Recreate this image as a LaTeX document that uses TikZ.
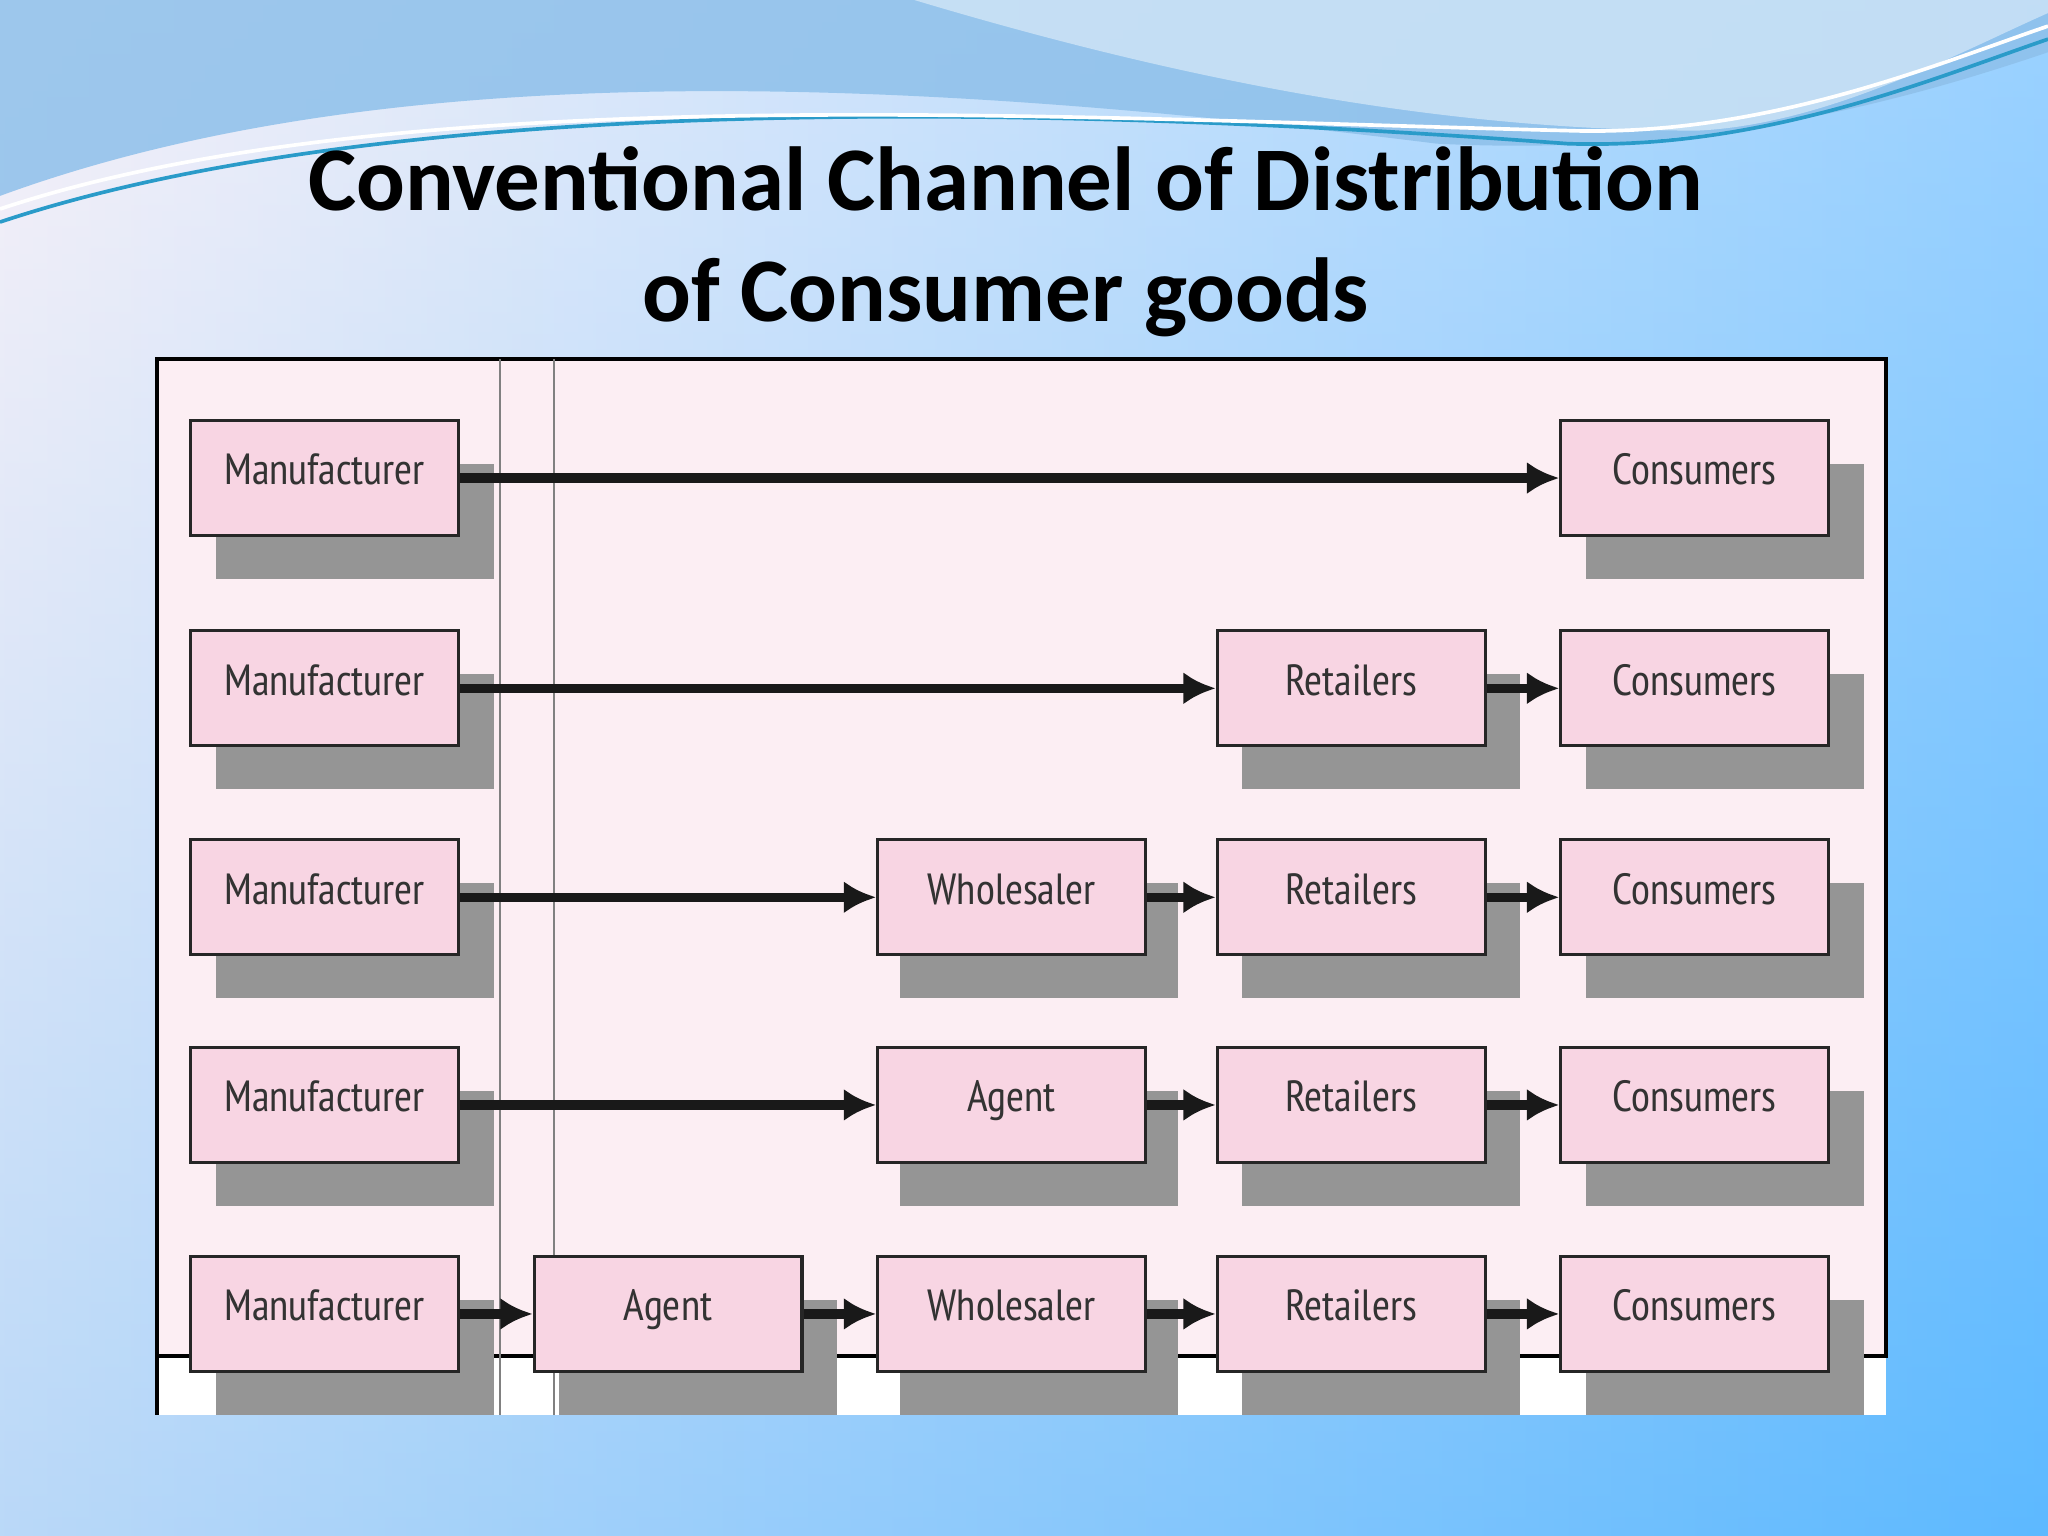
\documentclass[tikz,border=0pt]{standalone}
\usepackage{fontspec}
\setmainfont{Carlito}
\newfontfamily\boxfont{PT Sans Narrow}
\usetikzlibrary{arrows.meta}
\definecolor{boxpink}{HTML}{F8D5E3}
\definecolor{panelpink}{HTML}{FCEEF3}
\definecolor{shadowgray}{HTML}{959595}
\tikzset{
  chbox/.style={draw=black!85, line width=0.7pt, fill=boxpink, minimum width=2.05cm, minimum height=0.88cm, inner sep=0pt, text height=6pt, text depth=3pt, font=\boxfont\fontsize{9.5}{10}\selectfont, text=black!80},
  flow/.style={line width=2pt, -{Latex[length=7pt,width=7pt]}, black!90}
}
\begin{document}
\begin{tikzpicture}[x=0.01cm,y=-0.01cm]
\useasboundingbox (0,0) rectangle (1568,1176);
\shade[left color=violet!8!white, right color=cyan!55!blue!60] (0,0) rectangle (1568,1176);
\shade[top color=white, bottom color=cyan!60!blue!70, opacity=0.35] (0,0) rectangle (1568,1176);
% top waves
\fill[cyan!70!blue!45, opacity=0.85] (0,0) -- (0,150) .. controls (300,40) and (700,60) .. (1100,110) .. controls (1300,120) and (1450,80) .. (1568,40) -- (1568,0) -- cycle;
\fill[white, opacity=0.45] (700,0) .. controls (900,60) and (1100,100) .. (1300,100) .. controls (1400,95) and (1500,40) .. (1568,10) -- (1568,0) -- cycle;
\draw[cyan!60!teal, line width=0.8pt] (0,170) .. controls (300,70) and (800,80) .. (1200,110) .. controls (1350,115) and (1480,60) .. (1568,30);
\draw[white, line width=0.8pt] (0,160) .. controls (300,60) and (800,90) .. (1200,100) .. controls (1350,105) and (1480,50) .. (1568,20);
% title
\node[font=\bfseries\fontsize{19.8}{24}\selectfont, align=center] (title) at (770,185) {Conventional Channel of Distribution\\of Consumer goods};
% panel
\fill[white] (120,275) rectangle (1444,1083);
\fill[panelpink] (120,275) rectangle (1444,1038);
\draw[black, line width=0.8pt] (120,1083) -- (120,275) -- (1444,275) -- (1444,1038) -- (120,1038);
\draw[gray, line width=0.5pt] (383,275) -- (383,1083) (424,275) -- (424,1083);
% shadows
\foreach \y in {366,527,687,846,1006}{
  \foreach \x in {248.5,1297.5}{\fill[shadowgray] (\x-102.5+19,\y-44+23+10) rectangle (\x+102.5+27,\y+44+33);}
}
\foreach \y in {527,687,846,1006}{\fill[shadowgray] (1034.5-102.5+19,\y-44+33) rectangle (1034.5+102.5+27,\y+44+33);}
\foreach \y in {687,846,1006}{\fill[shadowgray] (774.5-102.5+17,\y-44+33) rectangle (774.5+102.5+25,\y+44+33);}
\fill[shadowgray] (511.5-102.5+19,1006-44+33) rectangle (511.5+102.5+27,1006+44+33);
% row 1
\node[chbox] (m1) at (248.5,366) {Manufacturer};
\node[chbox] (c1) at (1297.5,366) {Consumers};
% row 2
\node[chbox] (m2) at (248.5,527) {Manufacturer};
\node[chbox] (r2) at (1034.5,527) {Retailers};
\node[chbox] (c2) at (1297.5,527) {Consumers};
% row 3
\node[chbox] (m3) at (248.5,687) {Manufacturer};
\node[chbox] (w3) at (774.5,687) {Wholesaler};
\node[chbox] (r3) at (1034.5,687) {Retailers};
\node[chbox] (c3) at (1297.5,687) {Consumers};
% row 4
\node[chbox] (m4) at (248.5,846) {Manufacturer};
\node[chbox] (a4) at (774.5,846) {Agent};
\node[chbox] (r4) at (1034.5,846) {Retailers};
\node[chbox] (c4) at (1297.5,846) {Consumers};
% row 5
\node[chbox] (m5) at (248.5,1006) {Manufacturer};
\node[chbox] (a5) at (511.5,1006) {Agent};
\node[chbox] (w5) at (774.5,1006) {Wholesaler};
\node[chbox] (r5) at (1034.5,1006) {Retailers};
\node[chbox] (c5) at (1297.5,1006) {Consumers};
% arrows
\draw[flow] (m1) -- (c1);
\draw[flow] (m2) -- (r2); \draw[flow] (r2) -- (c2);
\draw[flow] (m3) -- (w3); \draw[flow] (w3) -- (r3); \draw[flow] (r3) -- (c3);
\draw[flow] (m4) -- (a4); \draw[flow] (a4) -- (r4); \draw[flow] (r4) -- (c4);
\draw[flow] (m5) -- (a5); \draw[flow] (a5) -- (w5); \draw[flow] (w5) -- (r5); \draw[flow] (r5) -- (c5);
\end{tikzpicture}
\end{document}
